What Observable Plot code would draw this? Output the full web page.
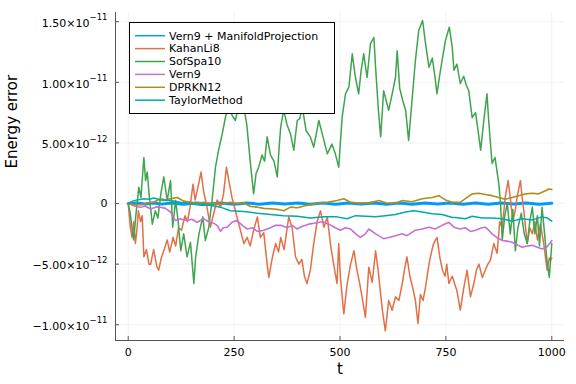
<!DOCTYPE html>
<html>
<head>
<meta charset="utf-8">
<script src="https://cdn.jsdelivr.net/npm/d3@7"></script>
<script src="https://cdn.jsdelivr.net/npm/@observablehq/plot@0.6"></script>
<style>
  body { margin: 0; background: #fff; }
  #wrap { position: relative; width: 576px; height: 384px; font-family: "DejaVu Sans", sans-serif; }
  #legend { position: absolute; left: 129px; top: 22px; }
</style>
</head>
<body>
<div id="wrap"></div>
<script>
// ---- data (energy error in units of 1e-12) ----
const unit = 1e-12;
const seriesNames = ["Vern9 + ManifoldProjection", "KahanLi8", "SofSpa10", "Vern9", "DPRKN12", "TaylorMethod"];
const seriesColors = ["#009AFA", "#E36F47", "#3EA44E", "#C371D2", "#AC8E18", "#00A9AD"];
const xTicks = [0, 250, 500, 750, 1000];
const yTicks = [-1e-11, -5e-12, 0, 5e-12, 1e-11, 1.5e-11];
const yTickMantissa = ["−1.00×10", "−5.00×10", "0", "5.00×10", "1.00×10", "1.50×10"];
const yTickExponent = ["−11", "−12", "", "−12", "−11", "−11"];
const xDomain = [-30, 1030];
const yDomain = [-11.3e-12, 15.76e-12];

const vern9Manifold = [[0,0],[20,0.05],[40,-0.04],[60,0.05],[80,-0.05],[100,0.04],[130,-0.05],[160,0.05],[190,-0.04],[220,0.05],[250,-0.05],[280,0.04],[310,-0.05],[340,0.05],[370,-0.04],[400,0.05],[430,-0.05],[460,0.04],[490,-0.05],[520,0.05],[550,-0.04],[580,0.05],[610,-0.05],[640,0.04],[670,-0.05],[700,0.05],[730,-0.04],[760,0.05],[790,-0.05],[820,0.04],[850,-0.05],[880,0.05],[910,-0.04],[940,0.05],[970,-0.05],[1000,0.02]];

const kahanLi8 = [[0,0],[5,-1.95],[9,-2.8],[13,-1.5],[17,-3.3],[21,-2.0],[24,-0.6],[29,-1.5],[33,-1.0],[37,-4.4],[43,-3.8],[49,-5.0],[53,-5.0],[60,-3.8],[68,-5.25],[72,-5.5],[78,-4.5],[85,-3.8],[92,-3.0],[98,-4.0],[106,-2.8],[112,-3.5],[119,-2.0],[126,-2.2],[134,-1.0],[140,-1.5],[146,-0.3],[153,1.6],[158,0.3],[165,1.4],[172,2.6],[178,1.0],[186,-0.3],[194,-1.95],[202,-0.8],[210,0.3],[218,-0.3],[225,0.8],[232,3.0],[237,2.0],[245,0.5],[253,-0.6],[262,-1.8],[273,-3.3],[281,-2.8],[288,-3.5],[296,-2.2],[305,-1.1],[312,-2.8],[320,-2.4],[328,-5.0],[332,-6.1],[340,-4.5],[348,-3.3],[355,-4.0],[360,-2.8],[368,-3.8],[379,-1.1],[387,-2.0],[395,-4.4],[403,-5.0],[410,-4.6],[416,-6.0],[422,-6.6],[430,-5.5],[438,-3.3],[446,-1.5],[454,-0.6],[462,-1.95],[470,-1.1],[478,-3.5],[485,-5.0],[493,-6.6],[497,-3.3],[501,-6.1],[509,-9.1],[517,-6.6],[525,-5.0],[533,-3.9],[540,-5.5],[546,-6.5],[552,-7.7],[560,-9.4],[568,-5.25],[576,-6.5],[584,-3.9],[590,-5.5],[596,-7.5],[600,-8.8],[607,-10.5],[615,-8.0],[623,-8.8],[631,-7.7],[639,-8.0],[647,-6.6],[652,-5.5],[658,-4.4],[665,-6.0],[672,-7.0],[678,-8.0],[684,-9.9],[690,-7.5],[696,-8.0],[702,-6.9],[710,-5.0],[716,-4.0],[721,-3.3],[729,-2.8],[736,-4.5],[742,-5.5],[748,-6.0],[752,-5.0],[757,-6.6],[765,-6.0],[776,-7.2],[784,-8.8],[792,-7.0],[800,-5.5],[808,-7.7],[816,-6.6],[822,-5.5],[828,-5.0],[836,-6.1],[843,-5.5],[849,-5.0],[855,-4.7],[863,-3.3],[871,-4.1],[877,-1.5],[883,-2.0],[890,0.5],[897,1.9],[902,0.5],[908,-1.5],[914,-0.5],[918,0.5],[926,1.9],[930,0.5],[934,-0.6],[942,-3.3],[948,-2.0],[954,-2.5],[960,-1.5],[966,-3.0],[973,-1.7],[981,-3.3],[989,-5.5],[994,-4.5],[997,-4.7],[1000,-4.5]];

const sofSpa10 = [[0,0],[5,-0.85],[9,-2.0],[13,-3.0],[18,-1.0],[25,1.35],[30,0.5],[37,3.8],[41,1.9],[45,2.6],[50,0.5],[57,-1.7],[64,-0.6],[70,-1.2],[77,0.8],[84,2.2],[92,0.25],[100,1.9],[105,-1.95],[112,0.25],[118,-1.5],[124,-3.9],[131,-2.5],[139,-4.4],[147,-3.2],[155,-6.6],[159,-4.5],[167,-2.5],[176,-1.1],[182,-3.05],[190,-2.0],[198,0.25],[206,3.0],[214,4.5],[222,5.75],[230,7.2],[237,8.0],[245,7.3],[253,6.85],[262,8.3],[273,7.95],[280,6.5],[288,3.5],[296,0.8],[302,2.5],[308,3.0],[316,4.0],[322,3.5],[328,5.5],[336,4.0],[344,3.5],[352,2.2],[356,4.5],[360,6.3],[367,7.7],[375,6.5],[383,5.75],[391,4.4],[399,6.85],[405,7.0],[411,7.95],[420,6.0],[430,5.5],[438,4.65],[450,6.85],[460,5.5],[470,4.1],[481,4.9],[489,4.1],[497,3.0],[505,7.1],[513,9.05],[521,9.6],[529,12.35],[536,10.5],[544,9.05],[550,11.0],[556,12.35],[564,10.4],[572,13.2],[580,13.7],[584,11.25],[590,8.0],[596,5.5],[603,9.3],[609,8.5],[615,7.7],[623,9.0],[631,10.4],[635,12.6],[641,9.5],[648,8.5],[655,7.7],[662,5.2],[670,8.5],[678,11.8],[686,14.3],[695,15.1],[702,13.2],[710,11.25],[718,12.0],[724,10.5],[729,9.05],[735,10.5],[741,11.8],[749,13.45],[758,14.55],[765,12.9],[769,11.0],[776,11.5],[784,9.9],[792,10.5],[798,9.8],[804,9.3],[812,7.1],[820,7.5],[826,6.0],[832,4.4],[840,7.0],[847,9.05],[851,6.85],[859,3.3],[866,3.8],[875,1.6],[879,0],[883,-3.05],[889,-1.0],[895,0],[902,-2.5],[908,-0.5],[914,-3.9],[920,-2.0],[928,-0.8],[935,-2.5],[942,-3.3],[948,-1.5],[954,-0.3],[960,-2.5],[966,-1.0],[971,-3.5],[977,-0.3],[983,-2.5],[988,-4.5],[994,-6.1],[1000,-3.3]];

const vern9 = [[0,0],[15,-0.2],[29,-0.3],[40,-0.2],[53,-0.45],[65,-0.3],[76,-0.3],[88,-0.4],[100,-0.7],[108,-1.25],[112,-1.4],[123,-1.25],[131,-1.35],[139,-1.4],[150,-1.3],[163,-1.55],[170,-1.4],[178,-1.25],[190,-1.5],[200,-1.6],[210,-1.8],[218,-2.3],[224,-2.0],[234,-1.95],[245,-1.55],[255,-1.4],[263,-1.6],[273,-1.9],[281,-2.1],[293,-2.0],[305,-2.3],[320,-2.2],[336,-2.0],[347,-1.8],[360,-1.8],[375,-2.0],[387,-1.8],[399,-2.1],[410,-1.9],[426,-1.7],[442,-1.6],[458,-1.5],[474,-1.7],[489,-2.0],[501,-2.2],[513,-2.0],[525,-2.1],[537,-2.5],[548,-2.8],[560,-2.5],[568,-2.1],[584,-2.5],[603,-2.9],[615,-2.8],[631,-2.65],[647,-2.5],[658,-2.65],[678,-2.2],[694,-2.1],[710,-1.95],[725,-2.1],[741,-1.8],[757,-1.55],[769,-1.95],[784,-2.1],[796,-2.0],[808,-2.3],[820,-2.2],[835,-2.0],[843,-1.95],[851,-2.2],[859,-2.5],[870,-2.8],[883,-3.05],[895,-3.1],[906,-3.2],[918,-3.4],[930,-3.6],[942,-3.5],[954,-3.45],[966,-3.6],[977,-3.75],[988,-3.6],[993,-3.4],[1000,-3.05]];

const dprkn12 = [[0,0],[15,-0.1],[30,-0.1],[45,0.05],[60,0.1],[76,0.4],[88,0.3],[100,0.4],[116,0.5],[131,0.2],[147,0.1],[163,0.0],[178,0.1],[194,0.0],[210,-0.05],[218,-0.1],[230,0.05],[241,0.1],[257,0.0],[273,0.05],[289,-0.25],[305,-0.3],[320,-0.4],[344,-0.45],[355,-0.5],[367,-0.6],[383,-0.3],[400,-0.35],[422,-0.15],[446,0.0],[470,0.1],[493,0.25],[509,0.4],[525,0.1],[544,0.03],[568,0.05],[592,0.25],[610,0.05],[631,0.0],[647,0.25],[670,0.15],[694,0.4],[718,0.5],[733,0.65],[749,0.3],[765,0.1],[784,0.1],[796,0.4],[812,0.8],[828,0.85],[843,0.75],[859,0.65],[875,0.5],[890,0.35],[906,0.5],[922,0.65],[938,0.8],[954,0.85],[969,0.8],[985,1.05],[993,1.2],[1000,1.15]];

const taylorMethod = [[0,0],[10,0.2],[21,0.3],[37,0.4],[50,0.35],[61,0.45],[76,0.3],[100,0.25],[123,0.1],[147,0.0],[170,-0.15],[194,-0.15],[218,-0.3],[241,-0.6],[273,-0.65],[305,-0.8],[336,-0.9],[367,-1.0],[399,-1.05],[430,-1.2],[462,-1.1],[493,-1.1],[517,-1.25],[537,-1.0],[560,-1.05],[584,-1.1],[607,-1.0],[631,-0.9],[655,-0.7],[674,-0.6],[694,-0.7],[718,-0.85],[741,-0.9],[765,-1.15],[773,-1.15],[796,-1.25],[812,-1.05],[836,-1.2],[859,-1.2],[883,-1.25],[906,-1.45],[930,-1.25],[954,-1.35],[977,-1.1],[990,-1.2],[1000,-1.45]];

const seriesData = [vern9Manifold, kahanLi8, sofSpa10, vern9, dprkn12, taylorMethod];
const seriesWidths = [3, 1.5, 1.5, 1.6, 1.6, 1.5];

// ---- chart ----
const lineMarks = seriesData.map((pts, i) =>
  Plot.line(pts, {x: d => d[0], y: d => d[1] * unit, stroke: seriesColors[i], strokeWidth: seriesWidths[i]})
);

const chart = Plot.plot({
  width: 576, height: 384,
  marginTop: 12, marginRight: 12, marginBottom: 44, marginLeft: 115,
  style: {fontFamily: "DejaVu Sans", fontSize: "11px", background: "#fff", color: "#000"},
  x: {domain: xDomain},
  y: {domain: yDomain},
  marks: [
    Plot.gridX(xTicks, {stroke: "#000", strokeOpacity: 0.1, strokeWidth: 0.5}),
    Plot.gridY(yTicks, {stroke: "#000", strokeOpacity: 0.1, strokeWidth: 0.5}),
    ...lineMarks,
    Plot.ruleX([xDomain[0]], {stroke: "#555", strokeWidth: 1}),
    Plot.ruleY([yDomain[0]], {stroke: "#555", strokeWidth: 1}),
    Plot.axisX(xTicks, {tickSize: 4, dy: -4, tickPadding: 8, label: null, stroke: "#555", fill: "#000", tickFormat: d => String(d)}),
    Plot.axisY(yTicks, {tickSize: 4, dx: 4, tickPadding: 8, label: null, stroke: "#555", fill: "#000",
      tickFormat: d => { const i = yTicks.indexOf(d); return yTickExponent[i] ? yTickMantissa[i] + "^" + yTickExponent[i] : yTickMantissa[i]; }}),
    Plot.text(["t"], {frameAnchor: "bottom", dy: 33, fontSize: 15}),
    Plot.text(["Energy error"], {frameAnchor: "left", dx: -103, dy: -8, rotate: -90, fontSize: 15})
  ]
});

// superscript exponents on y tick labels
d3.select(chart).selectAll('g[aria-label="y-axis tick label"] text').each(function() {
  const s = this.textContent;
  if (!s.includes("^")) return;
  const [a, b] = s.split("^");
  const t = d3.select(this);
  t.text(null);
  t.append("tspan").attr("dy", "1.8").text(a);
  t.append("tspan").attr("dy", "-6.6").attr("font-size", "8.5px").text(b);
});

const wrap = document.getElementById("wrap");
wrap.appendChild(chart);

// ---- legend ----
const leg = d3.select(wrap).append("svg").attr("id", "legend")
  .attr("width", 207).attr("height", 93);
leg.append("rect").attr("x", 0.5).attr("y", 0.5).attr("width", 205).attr("height", 91)
  .attr("fill", "#fff").attr("stroke", "#000").attr("stroke-width", 1);
seriesNames.forEach((name, i) => {
  const y = 13.7 + i * 12.9;
  leg.append("line").attr("x1", 6).attr("x2", 36).attr("y1", y).attr("y2", y)
    .attr("stroke", seriesColors[i]).attr("stroke-width", 1.5);
  leg.append("text").attr("x", 40).attr("y", y).attr("dy", "0.35em")
    .attr("font-family", "DejaVu Sans").attr("font-size", "11px").attr("fill", "#000").text(name);
});
</script>
</body>
</html>
